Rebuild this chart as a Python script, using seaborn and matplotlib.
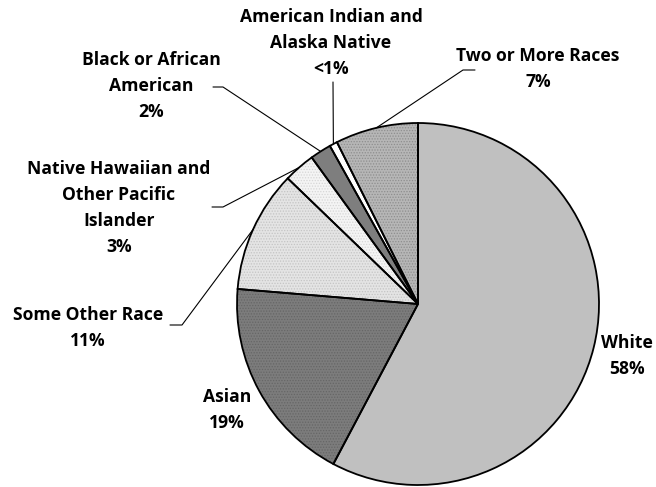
import matplotlib
matplotlib.use("Agg")
import matplotlib.pyplot as plt
from matplotlib.patches import Wedge
import seaborn as sns
import numpy as np

# ---- data ----
categories = ["White", "Asian", "Some Other Race",
              "Native Hawaiian and Other Pacific Islander",
              "Black or African American",
              "American Indian and Alaska Native",
              "Two or More Races"]
values = [57.8, 18.6, 10.9, 2.8, 1.9, 0.7, 7.4]
pct_labels = ["58%", "19%", "11%", "3%", "2%", "<1%", "7%"]
label_lines = ["White", "Asian", "Some Other Race",
               "Native Hawaiian and\nOther Pacific\nIslander",
               "Black or African\nAmerican",
               "American Indian and\nAlaska Native",
               "Two or More Races"]

sns.set_theme(style="white")
plt.rcParams['font.family'] = ['Open Sans', 'DejaVu Sans']
plt.rcParams['hatch.linewidth'] = 0.6

W, H = 656, 487
fig = plt.figure(figsize=(W / 100, H / 100), dpi=100)
ax = fig.add_axes([0, 0, 1, 1])
ax.set_xlim(0, W)
ax.set_ylim(0, H)

def py(y):
    return H - y

cx, cy, R = 418, py(304), 181
fills = ['#c0c0c0', '#7c7c7c', '#e4e4e4', '#f4f4f4', '#7e7e7e', '#ffffff', '#b6b6b6']
hatch_cols = [None, '#666666', '#c4c4c4', '#d6d6d6', None, None, '#8e8e8e']

wedges, _ = ax.pie(values, startangle=90, counterclock=False, center=(cx, cy),
                   radius=R, colors=fills, frame=True,
                   wedgeprops=dict(linewidth=0))
for w, hc in zip(wedges, hatch_cols):
    if hc is not None:
        ax.add_patch(Wedge((cx, cy), R, w.theta1, w.theta2, fill=False,
                           hatch='......', edgecolor=hc, linewidth=0, zorder=1.5))
    ax.add_patch(Wedge((cx, cy), R, w.theta1, w.theta2, fill=False,
                       edgecolor='black', linewidth=1.3, zorder=2))
ax.set_xlim(0, W)
ax.set_ylim(0, H)
ax.axis('off')

def rim(i):
    w = wedges[i]
    a = np.deg2rad((w.theta1 + w.theta2) / 2)
    return (cx + R * np.cos(a), cy + R * np.sin(a))

# label centers (pixel coords, y from top)
label_pos = [(627, 356), (227, 410), (88, 328), (119, 208),
             (151, 86), (331, 43), (538, 69)]
for i, (x, y) in enumerate(label_pos):
    ax.text(x, py(y), label_lines[i] + "\n" + pct_labels[i], ha='center', va='center',
            fontsize=12.6, fontweight='bold', linespacing=1.55, color='black')

# leader lines
leaders = {
    5: [(333, 82)],
    6: [(475, 70), (463, 70)],
    4: [(213, 87), (223, 87)],
    3: [(212, 207), (223, 207)],
    2: [(170, 325), (182, 325)],
}
for i, pts in leaders.items():
    xs = [p[0] for p in pts]
    ys = [py(p[1]) for p in pts]
    rx, ry = rim(i)
    xs.append(rx)
    ys.append(ry)
    ax.plot(xs, ys, color='black', linewidth=0.8, zorder=3)

fig.savefig("out.png", dpi=100)
